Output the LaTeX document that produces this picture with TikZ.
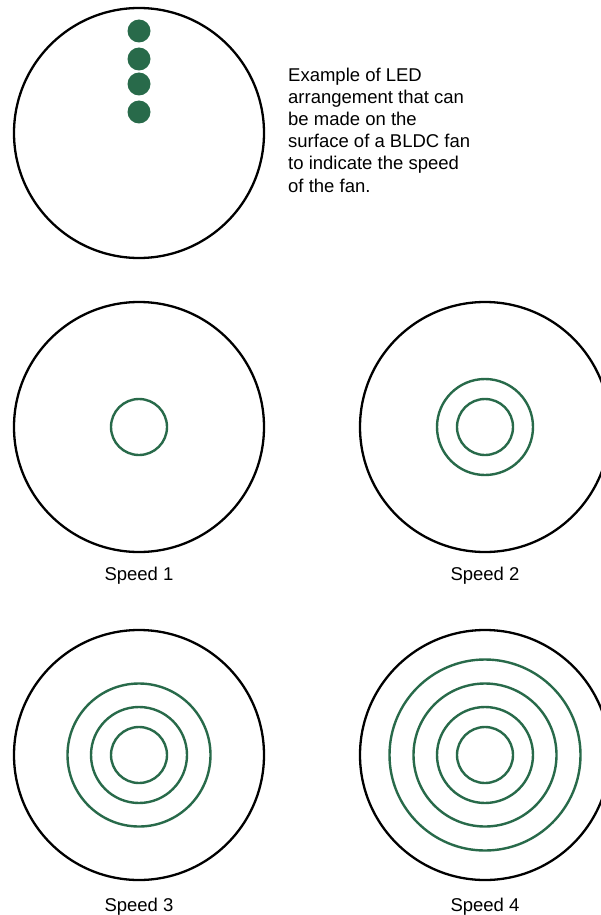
\documentclass[tikz,border=0pt]{standalone}
\usepackage{fontspec}
\setmainfont{Liberation Sans}
\definecolor{ledgreen}{RGB}{40,106,74}
\begin{document}
\begin{tikzpicture}[x=1pt, y=-1pt, fan/.style={draw=black, line width=2.3pt}, ring/.style={draw=ledgreen, line width=2.4pt},
  led/.style={fill=ledgreen}, every node/.append style={font=\fontsize{18.5}{22.2}\selectfont, inner sep=0pt}]
  \useasboundingbox (0,0) rectangle (600,915);
  % arrangement of the LEDs
  \draw[fan] (139,133) circle (125);
  \foreach \y in {31,59,84,112} \fill[led] (139,\y) circle (11.5);
  \node[anchor=north west, align=left] (note) at (288,67.5) {Example of LED\\arrangement that can\\be made on the\\surface of a BLDC fan\\to indicate the speed\\of the fan.};
  % speeds
  \draw[fan] (139,427) circle (125);  \node[anchor=base] (s1) at (139,580) {Speed 1};
  \draw[fan] (485,427) circle (125);  \node[anchor=base] (s2) at (485,580) {Speed 2};
  \draw[fan] (139,755) circle (125);  \node[anchor=base] (s3) at (139,911) {Speed 3};
  \draw[fan] (485,755) circle (125);  \node[anchor=base] (s4) at (485,911) {Speed 4};
  \draw[ring] (139,427) circle (28);
  \foreach \r in {28,48} \draw[ring] (485,427) circle (\r);
  \foreach \r in {28,48,71.5} \draw[ring] (139,755) circle (\r);
  \foreach \r in {28,48,71.5,95.5} \draw[ring] (485,755) circle (\r);
\end{tikzpicture}
\end{document}
